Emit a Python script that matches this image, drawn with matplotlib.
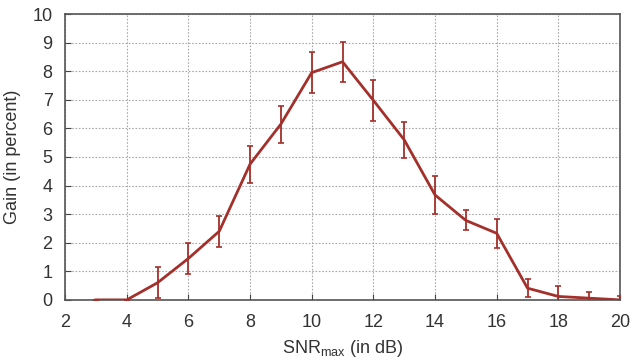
import numpy as np
import matplotlib
matplotlib.use('Agg')
import matplotlib.pyplot as plt

plt.rcParams['font.family'] = ['Liberation Sans', 'DejaVu Sans']

snr = [3, 4, 5, 6, 7, 8, 9, 10, 11, 12, 13, 14, 15, 16, 17, 18, 19, 20]
gain = [0.0, 0.0, 0.6, 1.45, 2.4, 4.75, 6.15, 7.95, 8.33, 6.98, 5.6, 3.67, 2.78, 2.33, 0.41, 0.12, 0.06, 0.0]
err = [0.0, 0.0, 0.55, 0.55, 0.55, 0.65, 0.65, 0.72, 0.7, 0.72, 0.63, 0.65, 0.35, 0.5, 0.32, 0.35, 0.23, 0.12]

fig = plt.figure(figsize=(6.32, 3.6), dpi=100)
ax = fig.add_axes([0.103, 0.167, 0.878, 0.794])

ax.errorbar(snr, gain, yerr=err, color='#a3302b', lw=2, elinewidth=1.3,
            capsize=2.5, capthick=1.2, zorder=3)

ax.set_xlim(2, 20)
ax.set_ylim(0, 10)
ax.set_xticks(range(2, 21, 2))
ax.set_yticks(range(0, 11))
ax.grid(True, color='#aaaaaa', linestyle=(0, (1.5, 1.5)), linewidth=0.8)
ax.tick_params(direction='in', labelsize=13, length=4, color='#444444',
               labelcolor='#333333')
ax.tick_params(axis='x', pad=10)
ax.tick_params(axis='y', pad=9)
for s in ax.spines.values():
    s.set_color('#555555')
    s.set_linewidth(1.2)

ax.set_xlabel('SNR$_{\\mathregular{max}}$ (in dB)', fontsize=13, labelpad=5,
              color='#333333')
ax.set_ylabel('Gain (in percent)', fontsize=13, labelpad=8, color='#333333')

fig.savefig('out.png', dpi=100)
